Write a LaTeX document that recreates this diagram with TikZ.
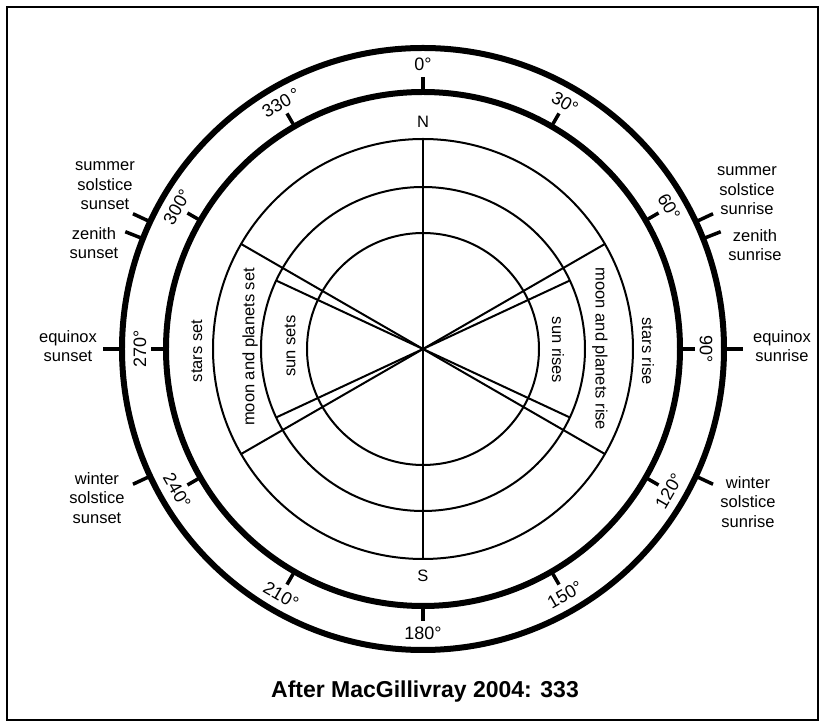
\documentclass[tikz,border=0pt]{standalone}
\usepackage{fontspec}
\setmainfont{Liberation Sans}
\usetikzlibrary{calc}

\begin{document}
\begin{tikzpicture}[x=1pt, y=1pt, line cap=butt,
  ring/.style={line width=6pt},
  thinline/.style={line width=2pt},
  degtick/.style={line width=3.5pt},
  deglabel/.style={font=\fontsize{18}{20}\selectfont, inner sep=0pt},
  sidelabel/.style={font=\fontsize{16.5}{19.5}\selectfont, align=center, inner sep=0pt},
  bandlabel/.style={font=\fontsize{16.5}{19.5}\selectfont, inner sep=0pt}]

  \useasboundingbox (-423,-378) rectangle (402,349);
  \draw[line width=2.5pt] (-416,342) rectangle (395,-371);

  \coordinate (O) at (0,0);

  % rings
  \draw[ring] (O) circle (301);
  \draw[ring] (O) circle (257);
  \draw[thinline] (O) circle (210);
  \draw[thinline] (O) circle (162);
  \draw[thinline] (O) circle (116);

  % meridian and rising/setting lines
  \draw[thinline] (90:210) -- (-90:210);
  \draw[thinline] (O) -- (30:210);
  \draw[thinline] (O) -- (-30:210);
  \draw[thinline] (O) -- (150:210);
  \draw[thinline] (O) -- (210:210);
  \draw[thinline] (O) -- (25:162);
  \draw[thinline] (O) -- (-25:162);
  \draw[thinline] (O) -- (155:162);
  \draw[thinline] (O) -- (205:162);

  % degree ticks on the inner ring
  \draw[degtick] (90:257) -- (90:272);
  \draw[degtick] (60:257) -- (60:272);
  \draw[degtick] (30:257) -- (30:272);
  \draw[degtick] (0:257) -- (0:272);
  \draw[degtick] (-30:257) -- (-30:272);
  \draw[degtick] (-60:257) -- (-60:272);
  \draw[degtick] (-90:257) -- (-90:272);
  \draw[degtick] (-120:257) -- (-120:272);
  \draw[degtick] (-150:257) -- (-150:272);
  \draw[degtick] (180:257) -- (180:272);
  \draw[degtick] (150:257) -- (150:272);
  \draw[degtick] (120:257) -- (120:272);

  % horizon events on the outer ring
  \draw[degtick] (25:301) -- (25:320);
  \draw[degtick] (21.5:301) -- (21.5:320);
  \draw[degtick] (0:301) -- (0:320);
  \draw[degtick] (-25:301) -- (-25:320);
  \draw[degtick] (155:301) -- (155:320);
  \draw[degtick] (158.5:301) -- (158.5:320);
  \draw[degtick] (180:301) -- (180:320);
  \draw[degtick] (205:301) -- (205:320);

  \node[deglabel, rotate=0] (d0) at (90:285) {0°};
  \node[deglabel, rotate=-30] (d30) at (60:284) {30°};
  \node[deglabel, rotate=-60] (d60) at (30:284) {60°};
  \node[deglabel, rotate=-90] (d90) at (0:283) {90°};
  \node[deglabel, rotate=60] (d120) at (-30:284) {120°};
  \node[deglabel, rotate=30] (d150) at (-60:284) {150°};
  \node[deglabel, rotate=0] (d180) at (-90:284) {180°};
  \node[deglabel, rotate=-30] (d210) at (-120:284) {210°};
  \node[deglabel, rotate=-60] (d240) at (-150:284) {240°};
  \node[deglabel, rotate=90] (d270) at (180:283) {270°};
  \node[deglabel, rotate=60] (d300) at (150:284) {300°};
  \node[deglabel, rotate=30] (d330) at (120:284) {330\,°};

  \node[bandlabel] (north) at (0,227) {N};
  \node[bandlabel] (south) at (0,-227) {S};

  \node[bandlabel, rotate=-90] (starsrise) at (225,-2) {stars rise};
  \node[bandlabel, rotate=-90] (moonrise) at (177,0) {moon and planets rise};
  \node[bandlabel, rotate=-90] (sunrises) at (135,-1) {sun rises};
  \node[bandlabel, rotate=90] (starsset) at (-226,-2) {stars set};
  \node[bandlabel, rotate=90] (moonset) at (-173,2) {moon and planets set};
  \node[bandlabel, rotate=90] (sunsets) at (-133,3) {sun sets};

  \node[sidelabel] (ssrise) at (324,158) {summer\\solstice\\sunrise};
  \node[sidelabel] (zrise) at (332,104) {zenith\\sunrise};
  \node[sidelabel] (eqrise) at (359,3) {equinox\\sunrise};
  \node[sidelabel] (wsrise) at (325,-153) {winter\\solstice\\sunrise};
  \node[sidelabel] (ssset) at (-318,163) {summer\\solstice\\sunset};
  \node[sidelabel] (zset) at (-329,106) {zenith\\sunset};
  \node[sidelabel] (eqset) at (-355,3) {equinox\\sunset};
  \node[sidelabel] (wsset) at (-326,-149) {winter\\solstice\\sunset};

  \node[font=\fontsize{23}{26}\selectfont\bfseries] (caption) at (2,-343) {After MacGillivray 2004: 333};

\end{tikzpicture}
\end{document}
